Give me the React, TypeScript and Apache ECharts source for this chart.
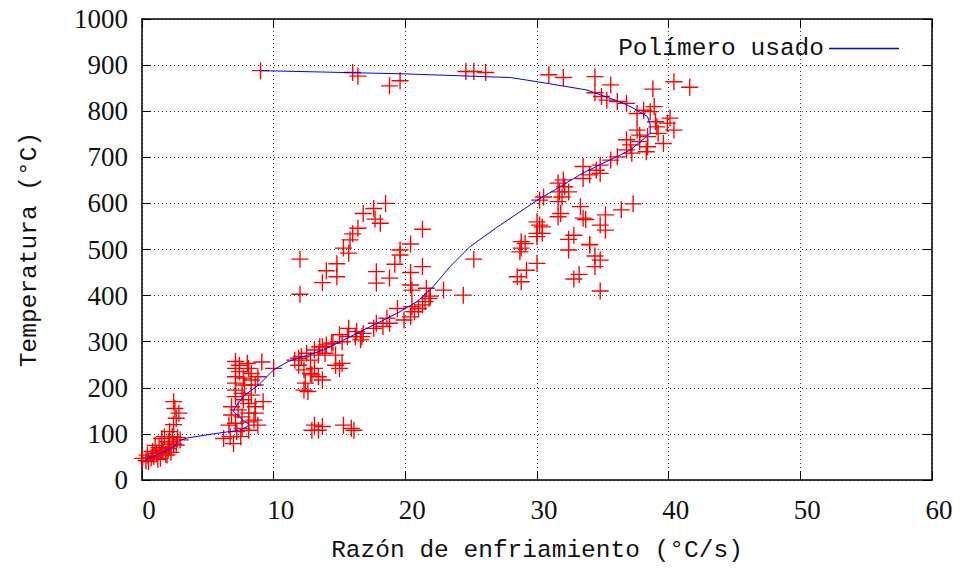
import React, { useEffect, useRef } from "react";
import * as echarts from "echarts";

// Tick values
const xTicks = { min: 0, max: 60, step: 10 };
const yTicks = { min: 0, max: 1000, step: 100 };

// Scatter measurements [cooling rate (°C/s), temperature (°C)]
const originCluster: number[][] = [
  [0.05, 47], [0.3, 42], [0.4, 54], [0.5, 40], [0.7, 48], [0.9, 51], [1.1, 58], [1.2, 45],
  [1.4, 47], [1.5, 62], [1.6, 65], [1.8, 56], [1.9, 54], [2.0, 68], [2.1, 72], [2.2, 60],
  [1.5, 90], [1.7, 94], [2.0, 83], [2.3, 94], [2.4, 78], [2.6, 76], [2.9, 87], [2.7, 92],
  [2.1, 105], [2.4, 120], [2.6, 134], [2.8, 145], [2.5, 155], [2.4, 170], [1.0, 75],
  [0.8, 62], [1.3, 70],
];
const sCluster: number[][] = [
  [6.2, 90], [6.7, 94], [6.95, 79], [7.5, 94], [7.2, 105], [6.6, 119], [7.1, 123], [7.6, 112],
  [8.1, 108], [8.1, 126], [8.5, 130], [8.8, 119], [6.8, 141], [7.6, 137], [8.1, 145], [8.6, 145],
  [6.8, 159], [7.3, 152], [8.6, 159], [8.1, 166], [9.2, 170], [7.1, 181], [7.7, 174], [7.6, 188],
  [8.3, 184], [7.1, 195], [7.8, 206], [8.6, 206], [7.1, 210], [8.3, 217], [7.7, 221], [7.1, 224],
  [8.8, 224], [8.3, 231], [7.4, 235], [7.1, 242], [8.1, 242], [7.4, 249], [7.1, 257], [8.0, 253],
  [9.1, 256], [10.0, 242],
];
const bandPoints: number[][] = [
  [11.6, 260], [11.9, 249], [11.9, 264], [12.1, 268], [12.5, 275], [12.8, 260], [13.1, 282],
  [13.4, 271], [13.9, 275], [13.7, 289], [14.4, 297], [14.7, 271], [15.2, 300], [14.7, 249],
  [15.2, 253], [15.0, 242], [13.1, 242], [12.3, 239], [12.9, 228], [13.4, 224], [13.7, 217],
  [12.4, 210], [12.6, 192], [12.3, 195], [12.8, 231], [16.2, 311], [16.7, 311], [15.6, 311],
  [15.0, 315], [16.6, 304], [16.3, 322], [15.7, 329], [16.8, 318], [17.6, 329], [18.3, 333],
  [17.8, 340], [18.8, 340], [18.6, 351], [19.4, 372], [19.9, 347], [20.4, 354], [20.5, 376],
  [20.7, 365], [21.0, 372], [21.3, 380], [21.5, 387], [21.8, 394], [21.9, 399], [20.5, 412],
  [21.6, 416], [22.9, 412], [20.4, 423], [24.4, 401], [14.0, 293], [13.5, 289], [14.5, 297],
];
const lowSpots: number[][] = [
  [12.9, 108], [13.1, 119], [13.4, 108], [13.7, 116], [15.3, 119], [15.9, 112], [16.1, 108],
];
const midLeftCluster: number[][] = [
  [18.5, 600], [17.6, 589], [16.8, 578], [17.7, 566], [18.1, 557], [16.4, 546], [16.0, 534],
  [15.8, 521], [15.3, 503], [15.7, 492], [12.0, 479], [14.8, 469], [14.0, 454], [14.8, 441],
  [13.7, 428], [12.0, 403],
];
const midCluster: number[][] = [
  [21.3, 544], [20.4, 512], [19.6, 499], [19.6, 488], [19.2, 468], [21.3, 463], [17.8, 452],
  [20.4, 450], [18.8, 438], [17.8, 427], [25.2, 479],
];
const rightLowCluster: number[][] = [
  [30.0, 560], [30.4, 549], [30.2, 553], [30.0, 535], [30.4, 535], [30.0, 528], [28.8, 517],
  [28.8, 503], [28.7, 495], [29.2, 455], [28.5, 441], [28.8, 430], [30.0, 470], [32.8, 531],
  [32.4, 522], [32.4, 499], [34.0, 511], [34.4, 486], [34.8, 477], [34.4, 463], [33.2, 446],
  [32.8, 436], [34.8, 410], [33.7, 565], [31.6, 571], [31.8, 578], [33.5, 568], [34.8, 553],
  [35.2, 575], [35.2, 542], [36.4, 586], [37.3, 599], [33.3, 593], [29.1, 513], [34.0, 510],
];
const upperBand: number[][] = [
  [30.5, 614], [30.2, 607], [31.6, 604], [31.9, 614], [31.7, 625], [32.4, 625], [32.1, 636],
  [31.6, 644], [32.0, 651], [33.5, 654], [34.0, 662], [34.5, 672], [33.5, 680], [34.8, 665],
  [34.8, 683], [35.6, 694], [36.1, 701], [36.8, 716], [37.2, 709], [38.3, 712], [38.4, 723],
  [37.1, 727], [36.8, 738], [37.8, 734], [37.8, 748], [38.4, 745], [39.6, 730], [39.2, 752],
  [40.4, 759], [39.1, 766], [39.0, 777], [39.9, 774], [40.1, 785], [37.6, 759], [37.6, 795],
  [38.1, 802], [38.6, 799], [38.9, 810],
];
const topPoints: number[][] = [
  [36.8, 817], [36.1, 821], [35.3, 824], [34.9, 832], [34.4, 840], [35.6, 857], [38.8, 848],
  [40.4, 864], [41.6, 852], [34.4, 875], [32.0, 873], [30.9, 879], [26.1, 884], [25.2, 886],
  [24.6, 886], [19.6, 866], [18.8, 855], [16.4, 876], [16.0, 884], [9.0, 888],
];

// Fitted curve "Polímero usado"
const polymerCurve: number[][] = [
  [0.2, 43], [1.6, 61], [2.4, 72], [2.9, 86], [3.4, 91], [5.4, 100], [7.4, 108], [8.0, 116],
  [8.1, 121], [7.4, 136], [6.95, 148], [7.1, 159], [7.8, 184], [8.85, 206], [10.0, 239],
  [11.1, 257], [13.8, 282], [16.8, 325], [19.4, 362], [20.9, 387], [22.1, 419], [23.4, 463],
  [24.9, 506], [27.0, 549], [29.5, 597], [30.2, 610], [33.5, 666], [37.1, 716], [38.6, 752],
  [38.6, 770], [38.4, 788], [37.3, 807], [36.5, 818], [33.8, 846], [30.0, 864], [28.0, 873],
  [19.9, 881], [9.0, 888],
];

const xName = "Razón de enfriamiento (°C/s)";
const yName = "Temperatura (°C)";
const lineName = "Polímero usado";

const CROSS = "path://M0,9.2H20V10.8H0Z M9.2,0H10.8V20H9.2Z";
const MONO = "Liberation Mono";
const SERIF = "Liberation Serif";

export default function App() {
  const ref = useRef<HTMLDivElement>(null);

  useEffect(() => {
    if (!ref.current) return;
    const chart = echarts.init(ref.current, undefined, { renderer: "svg" });
    const scatterData = [
      ...originCluster, ...sCluster, ...bandPoints, ...lowSpots, ...midLeftCluster,
      ...midCluster, ...rightLowCluster, ...upperBand, ...topPoints,
    ];
    const frame = { show: true, onZero: false, lineStyle: { color: "#000", width: 1.5 } };
    const tick = { show: true, inside: true, length: 9, lineStyle: { color: "#000", width: 1 } };
    const grid = { show: true, lineStyle: { color: "#333", width: 1, type: [1, 3] as any } };
    const plain = (v: number) => String(v);
    chart.setOption({
      animation: false,
      backgroundColor: "#fff",
      grid: { left: 142, right: 28, top: 19, bottom: 94 },
      legend: {
        data: [{ name: lineName, icon: "rect", itemStyle: { color: "#0000ff" } }],
        right: 56,
        top: 31,
        align: "right",
        itemWidth: 70,
        itemHeight: 1.3,
        textStyle: { fontFamily: MONO, fontSize: 24.5, color: "#111" },
      },
      xAxis: [
        {
          type: "value", position: "bottom", min: xTicks.min, max: xTicks.max, interval: xTicks.step,
          axisLine: frame, axisTick: tick, splitLine: grid,
          axisLabel: { fontFamily: SERIF, fontSize: 27, color: "#111", margin: 16, padding: [0, 0, 0, 14], formatter: plain },
          name: xName, nameLocation: "middle", nameGap: 58,
          nameTextStyle: { fontFamily: MONO, fontSize: 24.5, color: "#111" },
        },
        {
          type: "value", position: "top", min: xTicks.min, max: xTicks.max, interval: xTicks.step,
          axisLine: frame, axisTick: tick, splitLine: { show: false }, axisLabel: { show: false },
        },
      ],
      yAxis: [
        {
          type: "value", position: "left", min: yTicks.min, max: yTicks.max, interval: yTicks.step,
          axisLine: frame, axisTick: tick, splitLine: grid,
          axisLabel: { fontFamily: SERIF, fontSize: 27, color: "#111", margin: 14, formatter: plain },
          name: yName, nameLocation: "middle", nameGap: 100, nameRotate: 90,
          nameTextStyle: { fontFamily: MONO, fontSize: 24.5, color: "#111" },
        },
        {
          type: "value", position: "right", min: yTicks.min, max: yTicks.max, interval: yTicks.step,
          axisLine: frame, axisTick: tick, splitLine: { show: false }, axisLabel: { show: false },
        },
      ],
      series: [
        {
          type: "scatter",
          name: "datos",
          data: scatterData,
          symbol: CROSS,
          symbolSize: 17,
          itemStyle: { color: "#ff0000", opacity: 1 },
          z: 2,
          clip: false,
        },
        {
          type: "line",
          name: lineName,
          data: polymerCurve,
          symbol: "none",
          lineStyle: { color: "#0000ff", width: 1 },
          itemStyle: { color: "#0000ff" },
          z: 3,
        },
      ],
    });
    return () => chart.dispose();
  }, []);

  return (
    <div
      ref={ref}
      style={{ position: "absolute", left: 0, top: 0, width: 960, height: 574 }}
    />
  );
}
